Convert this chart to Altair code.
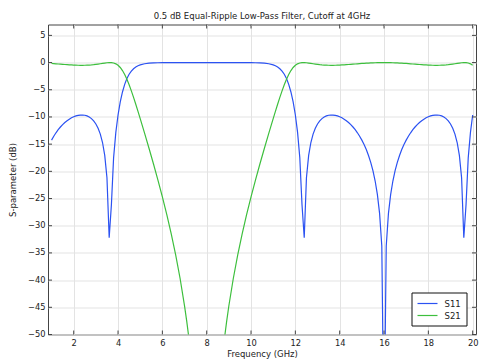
import altair as alt
import pandas as pd

# ---------------- data ----------------
freq_ghz = [
    1.0, 1.1, 1.2, 1.3, 1.4, 1.5, 1.6, 1.7, 1.8, 1.9,
    2.0, 2.1, 2.2, 2.3, 2.4, 2.5, 2.6, 2.7, 2.8, 2.9,
    3.0, 3.1, 3.2, 3.3, 3.4, 3.5, 3.6, 3.7, 3.8, 3.9,
    4.0, 4.1, 4.2, 4.3, 4.4, 4.5, 4.6, 4.7, 4.8, 4.9,
    5.0, 5.2, 5.4, 5.6, 5.8, 6.0, 6.2, 6.4, 6.6, 6.8,
    7.0, 7.1, 7.2, 7.4, 7.6, 8.0, 8.4, 8.6, 8.8, 8.9,
    9.0, 9.2, 9.4, 9.6, 9.8, 10.0, 10.2, 10.4, 10.6, 10.8,
    11.0, 11.1, 11.2, 11.3, 11.4, 11.5, 11.6, 11.7, 11.8, 11.9,
    12.0, 12.1, 12.2, 12.3, 12.4, 12.5, 12.6, 12.7, 12.8, 12.9,
    13.0, 13.1, 13.2, 13.3, 13.4, 13.5, 13.6, 13.7, 13.8, 13.9,
    14.0, 14.1, 14.2, 14.3, 14.4, 14.5, 14.6, 14.7, 14.8, 14.9,
    15.0, 15.1, 15.2, 15.3, 15.4, 15.5, 15.6, 15.7, 15.8, 15.9,
    16.0, 16.1, 16.2, 16.3, 16.4, 16.5, 16.6, 16.7, 16.8, 16.9,
    17.0, 17.1, 17.2, 17.3, 17.4, 17.5, 17.6, 17.7, 17.8, 17.9,
    18.0, 18.1, 18.2, 18.3, 18.4, 18.5, 18.6, 18.7, 18.8, 18.9,
    19.0, 19.1, 19.2, 19.3, 19.4, 19.5, 19.6, 19.7, 19.8, 19.9,
    20.0,
]

s11_db = [
    -14.26, -13.54, -12.91, -12.35, -11.85, -11.42, -11.03, -10.70, -10.41, -10.16,
    -9.97, -9.81, -9.70, -9.65, -9.64, -9.69, -9.81, -10.01, -10.30, -10.72,
    -11.29, -12.07, -13.15, -14.70, -17.07, -21.17, -32.21, -26.16, -17.47, -12.84,
    -9.64, -7.24, -5.41, -4.00, -2.94, -2.15, -1.56, -1.13, -0.815, -0.589,
    -0.426, -0.222, -0.116, -0.059, -0.030, -0.015, -0.007, -0.003, -0.001, -0.0005,
    -0.0001, 0.0, 0.0, 0.0, 0.0, 0.0, 0.0, 0.0, 0.0, 0.0,
    -0.0001, -0.0005, -0.001, -0.003, -0.007, -0.015, -0.030, -0.059, -0.116, -0.222,
    -0.426, -0.589, -0.815, -1.13, -1.56, -2.15, -2.94, -4.00, -5.41, -7.24,
    -9.64, -12.84, -17.47, -26.16, -32.21, -21.17, -17.07, -14.70, -13.15, -12.07,
    -11.29, -10.72, -10.30, -10.01, -9.81, -9.69, -9.64, -9.65, -9.70, -9.81,
    -9.97, -10.16, -10.41, -10.70, -11.03, -11.42, -11.85, -12.35, -12.91, -13.54,
    -14.26, -15.07, -16.00, -17.09, -18.36, -19.88, -21.78, -24.24, -27.73, -33.74,
    -70.0, -33.74, -27.73, -24.24, -21.78, -19.88, -18.36, -17.09, -16.00, -15.07,
    -14.26, -13.54, -12.91, -12.35, -11.85, -11.42, -11.03, -10.70, -10.41, -10.16,
    -9.97, -9.81, -9.70, -9.65, -9.64, -9.69, -9.81, -10.01, -10.30, -10.72,
    -11.29, -12.07, -13.15, -14.70, -17.07, -21.17, -32.21, -26.16, -17.47, -12.84,
    -9.64,
]

s21_db = [
    -0.166, -0.197, -0.228, -0.260, -0.293, -0.325, -0.357, -0.387, -0.414, -0.440,
    -0.461, -0.479, -0.492, -0.499, -0.500, -0.493, -0.479, -0.456, -0.425, -0.385,
    -0.335, -0.278, -0.215, -0.150, -0.086, -0.033, -0.003, -0.011, -0.078, -0.232,
    -0.500, -0.908, -1.472, -2.20, -3.08, -4.09, -5.21, -6.41, -7.67, -8.97,
    -10.30, -13.02, -15.80, -18.65, -21.61, -24.69, -27.96, -31.48, -35.35, -39.70,
    -44.72, -47.59, -50.76, -58.4, -69.1, -300.0, -69.1, -58.4, -50.76, -47.59,
    -44.72, -39.70, -35.35, -31.48, -27.96, -24.69, -21.61, -18.65, -15.80, -13.02,
    -10.30, -8.97, -7.67, -6.41, -5.21, -4.09, -3.08, -2.20, -1.472, -0.908,
    -0.500, -0.232, -0.078, -0.011, -0.003, -0.033, -0.086, -0.150, -0.215, -0.278,
    -0.335, -0.385, -0.425, -0.456, -0.479, -0.493, -0.500, -0.499, -0.492, -0.479,
    -0.461, -0.440, -0.414, -0.387, -0.357, -0.325, -0.293, -0.260, -0.228, -0.197,
    -0.166, -0.137, -0.110, -0.086, -0.064, -0.045, -0.029, -0.016, -0.007, -0.002,
    0.0, -0.002, -0.007, -0.016, -0.029, -0.045, -0.064, -0.086, -0.110, -0.137,
    -0.166, -0.197, -0.228, -0.260, -0.293, -0.325, -0.357, -0.387, -0.414, -0.440,
    -0.461, -0.479, -0.492, -0.499, -0.500, -0.493, -0.479, -0.456, -0.425, -0.385,
    -0.335, -0.278, -0.215, -0.150, -0.086, -0.033, -0.003, -0.011, -0.078, -0.232,
    -0.500,
]

series_names = ["S11", "S21"]
series_colors = ["#2b52f2", "#3dbf3d"]
x_ticks = [2, 4, 6, 8, 10, 12, 14, 16, 18, 20]
y_ticks = [5, 0, -5, -10, -15, -20, -25, -30, -35, -40, -45, -50]

# ---------------- tables ----------------
n = len(freq_ghz)
df = pd.DataFrame({
    "freq": freq_ghz + freq_ghz,
    "value": s11_db + s21_db,
    "series": [series_names[0]] * n + [series_names[1]] * n,
})
xt = pd.DataFrame({"freq": x_ticks})
yt = pd.DataFrame({"value": y_ticks})

W, H = 428, 310
FONT = "DejaVu Sans"
TXT = "#222222"
FRAME = "#444444"

x_scale = alt.Scale(domain=[0.84, 20.15], nice=False, zero=False)
y_scale = alt.Scale(domain=[-50, 7], nice=False, zero=False)

x_axis = alt.Axis(values=x_ticks, title="Frequency (GHz)", grid=True,
                  labelPadding=4, titleX=W / 2, titleY=19,
                  titleBaseline="middle", titleAlign="center")
y_axis = alt.Axis(values=y_ticks, title="S-parameter (dB)", grid=True,
                  labelPadding=3, titleX=-36, titleY=H / 2, titleAngle=270,
                  titleBaseline="middle", titleAlign="center")

lines = alt.Chart(df).mark_line(clip=True, strokeWidth=1.2).encode(
    x=alt.X("freq:Q", scale=x_scale, axis=x_axis),
    y=alt.Y("value:Q", scale=y_scale, axis=y_axis),
    color=alt.Color("series:N",
                    scale=alt.Scale(domain=series_names, range=series_colors),
                    legend=alt.Legend(orient="none", legendX=363.5, legendY=268,
                                      title=None, symbolType="M-2,0H2", symbolSize=100,
                                      symbolStrokeWidth=1.2, symbolOffset=5,
                                      labelOffset=11, padding=5, rowPadding=1,
                                      strokeColor="#111111", fillColor="white",
                                      labelFont=FONT, labelFontSize=8.5,
                                      labelColor=TXT)),
)

tick_style = dict(color=FRAME, strokeWidth=1)
bottom_ticks = alt.Chart(xt).mark_rule(**tick_style).encode(
    x=alt.X("freq:Q", scale=x_scale, axis=x_axis), y=alt.value(H), y2=alt.value(H - 4))
top_ticks = alt.Chart(xt).mark_rule(**tick_style).encode(
    x=alt.X("freq:Q", scale=x_scale, axis=x_axis), y=alt.value(0), y2=alt.value(4))
left_ticks = alt.Chart(yt).mark_rule(**tick_style).encode(
    y=alt.Y("value:Q", scale=y_scale, axis=y_axis), x=alt.value(0), x2=alt.value(4))
right_ticks = alt.Chart(yt).mark_rule(**tick_style).encode(
    y=alt.Y("value:Q", scale=y_scale, axis=y_axis), x=alt.value(W), x2=alt.value(W - 4))

chart = alt.layer(lines, bottom_ticks, top_ticks, left_ticks, right_ticks).properties(
    width=W, height=H,
    autosize=alt.AutoSizeParams(type="none"),
    padding={"left": 40, "top": 16.5, "right": 6, "bottom": 26},
    title=alt.TitleParams(text="0.5 dB Equal-Ripple Low-Pass Filter, Cutoff at 4GHz",
                          font=FONT, fontSize=8.5, fontWeight="normal", color=TXT,
                          anchor="middle", frame="group", baseline="bottom",
                          offset=5, dy=10),
).configure_view(
    stroke=FRAME, strokeWidth=1,
).configure_axis(
    labelFont=FONT, labelFontSize=8.3, labelColor=TXT,
    titleFont=FONT, titleFontSize=8.5, titleFontWeight="normal", titleColor=TXT,
    gridColor="#e3e3e3", gridWidth=1, domain=False, ticks=False,
)

chart.save("out.html", embed_options={"renderer": "svg", "actions": False})
